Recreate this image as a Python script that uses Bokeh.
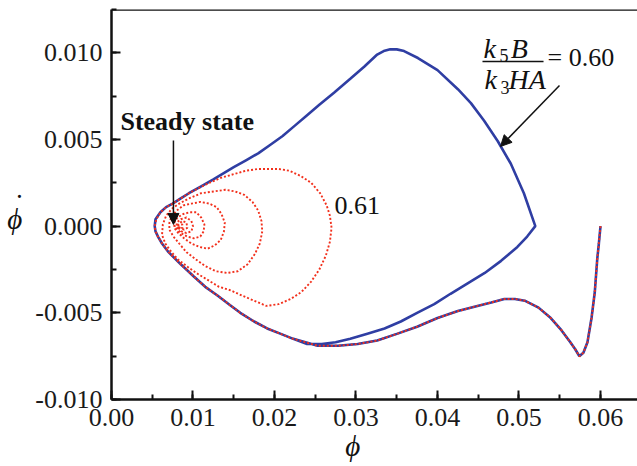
from bokeh.plotting import figure
from bokeh.models import (Range1d, SingleIntervalTicker, NumeralTickFormatter, Span,
                          Label, Arrow, NormalHead)
from bokeh.embed import file_html
from bokeh.resources import INLINE

# ---------------- data ----------------
# shared transient, from (0.060, 0) down and left to the left tip
transient = [
    (0.0600, 0.0000), (0.0598, -0.0010), (0.0596, -0.0019), (0.0593, -0.0038),
    (0.0589, -0.0053), (0.0584, -0.0067), (0.0579, -0.0073), (0.0574, -0.0075),
    (0.0569, -0.0071), (0.0563, -0.0067), (0.0552, -0.0060), (0.0539, -0.0053),
    (0.0524, -0.0047), (0.0507, -0.0043), (0.0495, -0.0042), (0.0482, -0.0042),
    (0.0466, -0.0044), (0.0449, -0.0046), (0.0425, -0.0049), (0.0400, -0.0053),
    (0.0375, -0.0058), (0.0351, -0.0062), (0.0326, -0.0066), (0.0302, -0.0068),
    (0.0278, -0.0069), (0.0253, -0.0069), (0.0238, -0.0067), (0.0223, -0.0065),
    (0.0207, -0.0062), (0.0191, -0.0059), (0.0175, -0.0055), (0.0158, -0.0050),
    (0.0144, -0.0045), (0.0130, -0.0040), (0.0115, -0.0035), (0.0101, -0.0029),
    (0.0085, -0.0022), (0.0070, -0.0015), (0.0062, -0.0010), (0.0057, -0.0006),
    (0.0054, -0.0003), (0.0053, 0.0000),
]

# k5B/(k3HA) = 0.60 : limit cycle after the transient
cycle_060 = [
    (0.0054, 0.0004), (0.0060, 0.0008), (0.0067, 0.0011), (0.0075, 0.0013),
    (0.0085, 0.0016), (0.0095, 0.0019), (0.0110, 0.0023), (0.0125, 0.0027),
    (0.0150, 0.0034), (0.0165, 0.0038), (0.0180, 0.0042), (0.0195, 0.0047),
    (0.0210, 0.0052), (0.0225, 0.0058), (0.0240, 0.0064), (0.0255, 0.0070),
    (0.0273, 0.0077), (0.0293, 0.0085), (0.0310, 0.0092), (0.0326, 0.0099),
    (0.0334, 0.0101), (0.0342, 0.0102), (0.0350, 0.0102), (0.0359, 0.0101),
    (0.0376, 0.0097), (0.0400, 0.0090), (0.0425, 0.0079), (0.0441, 0.0071),
    (0.0457, 0.0061), (0.0474, 0.0049), (0.0490, 0.0036), (0.0506, 0.0019),
    (0.0520, 0.0000),
    (0.0510, -0.0006), (0.0498, -0.0012), (0.0478, -0.0020), (0.0458, -0.0027),
    (0.0437, -0.0033), (0.0416, -0.0039), (0.0396, -0.0045), (0.0375, -0.0050),
    (0.0355, -0.0055), (0.0335, -0.0059), (0.0314, -0.0062), (0.0293, -0.0065),
    (0.0275, -0.0067), (0.0258, -0.0068), (0.0240, -0.0068), (0.0223, -0.0065),
    (0.0207, -0.0062), (0.0191, -0.0059), (0.0175, -0.0055), (0.0158, -0.0050),
    (0.0144, -0.0045), (0.0130, -0.0040), (0.0115, -0.0035), (0.0101, -0.0029),
    (0.0085, -0.0022), (0.0070, -0.0015), (0.0062, -0.0010), (0.0057, -0.0006),
    (0.0054, -0.0003), (0.0053, 0.0000),
]

# k5B/(k3HA) = 0.61 : damped spiral into the steady state after the transient
spiral_061 = [
    # loop 1
    (0.0055, 0.0004), (0.0060, 0.0008), (0.0067, 0.0011), (0.0075, 0.0013),
    (0.0085, 0.0016), (0.0095, 0.0019), (0.0107, 0.0022), (0.0120, 0.0025),
    (0.0135, 0.0028), (0.0150, 0.0030), (0.0165, 0.0032), (0.0180, 0.0033),
    (0.0195, 0.0033), (0.0205, 0.0033), (0.0218, 0.0032), (0.0232, 0.0029),
    (0.0245, 0.0025), (0.0256, 0.0019), (0.0264, 0.0012), (0.0268, 0.0006),
    (0.0270, -0.0001), (0.0268, -0.0009), (0.0263, -0.0017), (0.0255, -0.0025),
    (0.0245, -0.0032), (0.0233, -0.0038), (0.0220, -0.0042), (0.0205, -0.0045),
    (0.0190, -0.0046), (0.0175, -0.0043), (0.0160, -0.0040), (0.0146, -0.0037),
    (0.0132, -0.0035), (0.0118, -0.0031), (0.0104, -0.0027), (0.0092, -0.0023),
    (0.0081, -0.0019), (0.0072, -0.0014), (0.0066, -0.0010), (0.0062, -0.0005),
    # loop 2
    (0.0063, 0.0001), (0.0067, 0.0006), (0.0074, 0.0010), (0.0083, 0.0013),
    (0.0095, 0.0016), (0.0110, 0.0019), (0.0125, 0.0020), (0.0140, 0.0021),
    (0.0152, 0.0020), (0.0163, 0.0018), (0.0173, 0.0014), (0.0180, 0.0009),
    (0.0184, 0.0003), (0.0185, -0.0003), (0.0182, -0.0010), (0.0176, -0.0016),
    (0.0167, -0.0022), (0.0155, -0.0026), (0.0142, -0.0027), (0.0128, -0.0026),
    (0.0115, -0.0023), (0.0103, -0.0019), (0.0092, -0.0015), (0.0083, -0.0010),
    (0.0076, -0.0006), (0.0071, -0.0002),
    # loop 3
    (0.0071, 0.0002), (0.0074, 0.0006), (0.0080, 0.0009), (0.0088, 0.0012),
    (0.0098, 0.0013), (0.0109, 0.0014), (0.0120, 0.0013), (0.0129, 0.0011),
    (0.0135, 0.0007), (0.0139, 0.0002), (0.0138, -0.0003), (0.0134, -0.0008),
    (0.0127, -0.0011), (0.0118, -0.0013), (0.0108, -0.0012), (0.0098, -0.0010),
    (0.0089, -0.0007), (0.0082, -0.0004), (0.0077, -0.0001),
    # loop 4
    (0.0077, 0.0002), (0.0081, 0.0005), (0.0088, 0.0007), (0.0096, 0.0008),
    (0.0104, 0.0008), (0.0110, 0.0005), (0.0114, 0.0001), (0.0113, -0.0003),
    (0.0109, -0.0006), (0.0101, -0.0007), (0.0093, -0.0006), (0.0085, -0.0004),
    (0.0080, -0.0001),
    # loop 5
    (0.0080, 0.0002), (0.0085, 0.0004), (0.0092, 0.0005), (0.0098, 0.0003),
    (0.0100, 0.0000), (0.0098, -0.0003), (0.0092, -0.0004), (0.0086, -0.0003),
    (0.0082, -0.0001),
    # loop 6 and settling
    (0.0082, 0.0001), (0.0087, 0.0003), (0.0092, 0.0002), (0.0093, -0.0001),
    (0.0089, -0.0002), (0.0084, -0.0001), (0.0081, 0.0000),
    (0.0083, 0.0001), (0.0087, 0.0001), (0.0087, -0.0001), (0.0083, -0.0001),
    (0.0079, 0.0000), (0.0077, 0.0000),
]

steady_state = (0.0076, 0.0000)

x_ticks_interval = 0.01
y_ticks_interval = 0.005

blue_phi = [p_[0] for p_ in transient + cycle_060]
blue_dphi = [p_[1] for p_ in transient + cycle_060]
red_phi = [p_[0] for p_ in transient + spiral_061]
red_dphi = [p_[1] for p_ in transient + spiral_061]

# ---------------- figure ----------------
FONT = "Liberation Serif"
NBSP = "\u00a0"

p = figure(width=637, height=466,
           x_range=Range1d(0, 0.06454), y_range=Range1d(-0.010, 0.0125),
           output_backend="svg", toolbar_location=None,
           min_border_left=111, min_border_right=0,
           min_border_top=9, min_border_bottom=67)
p.xgrid.visible = False
p.ygrid.visible = False
p.outline_line_color = None
p.background_fill_color = "white"
p.border_fill_color = "white"

p.xaxis.ticker = SingleIntervalTicker(interval=x_ticks_interval, num_minor_ticks=2)
p.yaxis.ticker = SingleIntervalTicker(interval=y_ticks_interval, num_minor_ticks=2)
p.xaxis.formatter = NumeralTickFormatter(format="0.00")
p.yaxis.formatter = NumeralTickFormatter(format="0.000")

for ax in (p.xaxis[0], p.yaxis[0]):
    ax.axis_line_width = 2.5
    ax.axis_line_color = "#111111"
    ax.major_tick_line_width = 2
    ax.minor_tick_line_width = 2
    ax.major_tick_line_color = "#111111"
    ax.minor_tick_line_color = "#111111"
    ax.major_tick_in = 9
    ax.major_tick_out = 0
    ax.minor_tick_in = 5
    ax.minor_tick_out = 0
    ax.major_label_text_font = FONT
    ax.major_label_text_font_size = "26px"
    ax.major_label_text_color = "#1a1a1a"
    ax.axis_label_text_font = FONT
    ax.axis_label_text_font_size = "29px"
    ax.axis_label_text_font_style = "italic"
    ax.axis_label_text_color = "#111111"

p.xaxis.major_label_standoff = 9
p.yaxis.major_label_standoff = 9
# trailing no-break spaces move the centred symbol a little to the left
p.xaxis.axis_label = "\u03d5" + NBSP * 6
p.xaxis.axis_label_standoff = 1
# phi with a dot above (dot on its own short line)
p.yaxis.axis_label = NBSP + "\n\u02d9\n\u03d5"
p.yaxis.axis_label_text_line_height = 0.45
p.yaxis.axis_label_text_font_size = "29px"
p.yaxis.axis_label_orientation = "horizontal"
p.yaxis.axis_label_standoff = 10

p.add_layout(Span(location=0.0125, dimension="width", line_color="#111111", line_width=2.5))

# curves
p.line(blue_phi, blue_dphi, line_color="#2f3ea3", line_width=2.6)
p.line(red_phi, red_dphi, line_color="#f2301c", line_width=1.9, line_dash="2 2")

# annotations (y = vertical middle of the text)
def lab(x, y, text, size="25px", style="normal", align="left"):
    p.add_layout(Label(x=x, y=y, text=text, text_font=FONT, text_font_size=size,
                       text_font_style=style, text_align=align,
                       text_baseline="middle", text_color="#111111"))

lab(0.0011, 0.00603, "Steady state", size="26px", style="bold")
p.add_layout(Arrow(end=NormalHead(size=11, fill_color="#111111", line_color="#111111"),
                   x_start=steady_state[0], y_start=0.00494,
                   x_end=steady_state[0], y_end=steady_state[1] + 0.0001,
                   line_width=1.5, line_color="#111111"))

lab(0.02736, 0.00122, "0.61", size="26px")

# fraction k5B / k3HA = 0.60
lab(0.04564, 0.01026, "k", size="28px", style="italic")
lab(0.04761, 0.00984, "5", size="18px")
lab(0.04900, 0.01026, "B", size="28px", style="italic")
p.add_layout(Arrow(end=None, x_start=0.04552, y_start=0.00950, x_end=0.05301, y_end=0.00950,
                   line_width=1.5, line_color="#111111"))
lab(0.04577, 0.00848, "k", size="28px", style="italic")
lab(0.04773, 0.00799, "3", size="18px")
lab(0.04871, 0.00848, "HA", size="28px", style="italic")
lab(0.05350, 0.00972, "= 0.60", size="26px")
p.add_layout(Arrow(end=NormalHead(size=11, fill_color="#111111", line_color="#111111"),
                   x_start=0.05497, y_start=0.00812, x_end=0.04773, y_end=0.00460,
                   line_width=1.5, line_color="#111111"))

open("out.html", "w").write(file_html(p, INLINE))
